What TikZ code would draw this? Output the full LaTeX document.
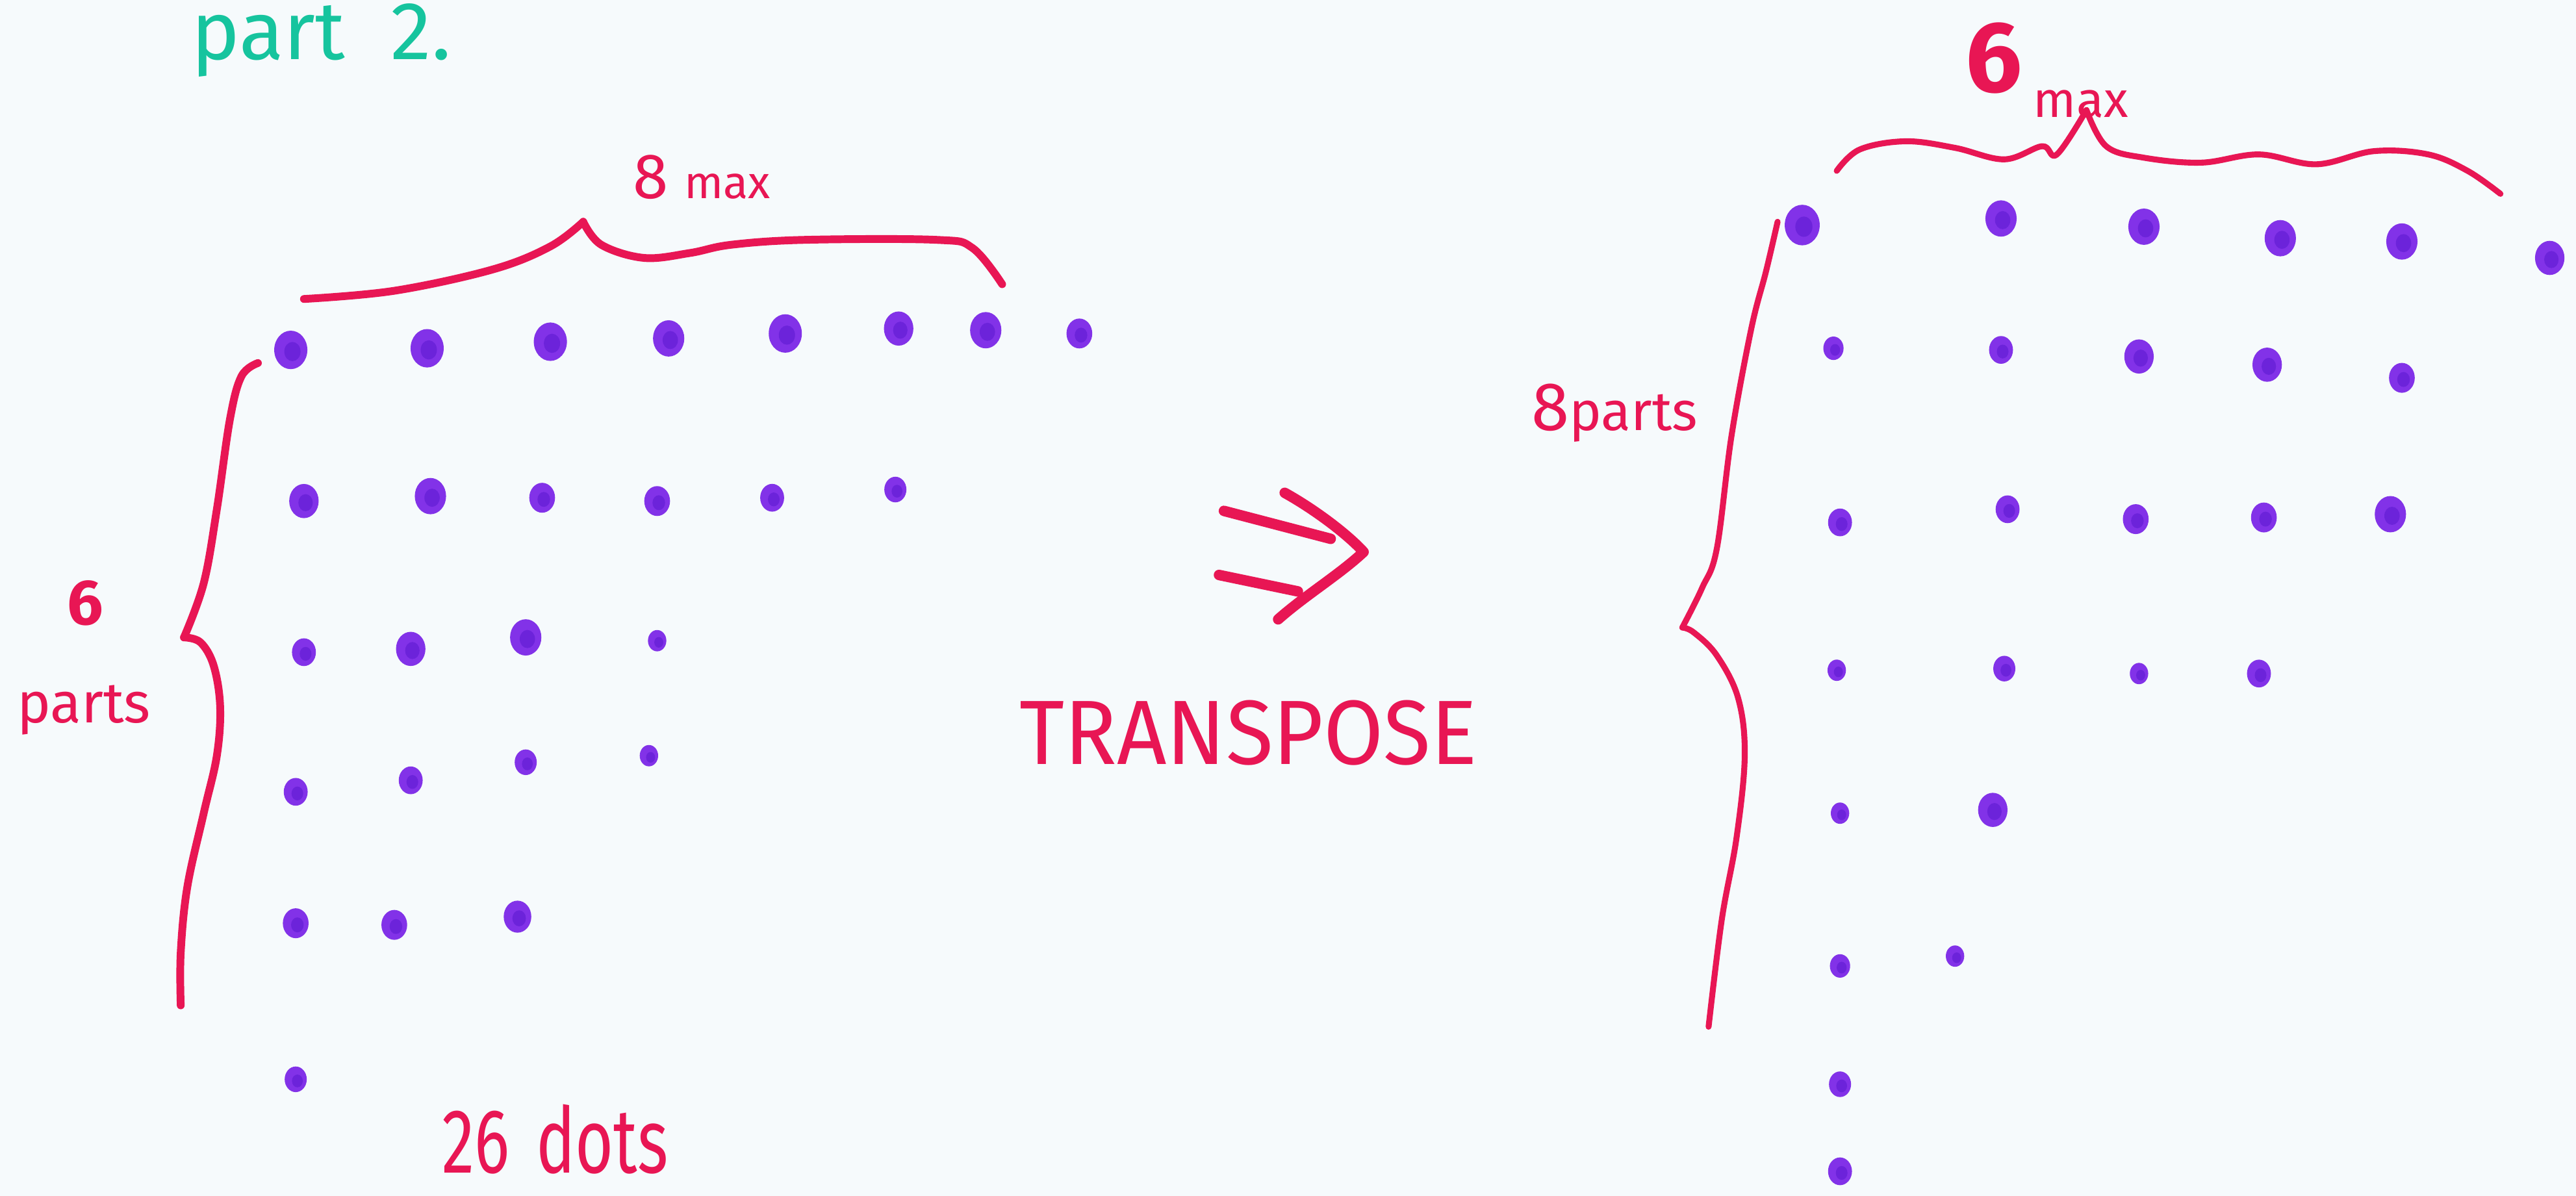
\documentclass[tikz,border=0pt]{standalone}
\usepackage{fontspec}
\setmainfont{Fira Sans}
\definecolor{paper}{RGB}{246,250,252}
\definecolor{marker}{RGB}{232,22,84}
\definecolor{mgreen}{RGB}{22,196,158}
\definecolor{dotc}{RGB}{130,50,232}
\definecolor{dotd}{RGB}{88,22,205}
\newcommand{\fs}[1]{\fontsize{#1}{#1}\selectfont}
\newcommand{\pdot}[3]{%
  \fill[dotc] (#1,#2) ellipse [x radius=1.12*#3, y radius=1.3*#3];
  \fill[dotd,opacity=0.5] (#1+1,#2+1) ellipse [x radius=0.55*#3, y radius=0.65*#3];}
\begin{document}
\begin{tikzpicture}[x=0.025287cm, y=-0.025287cm, line cap=round, line join=round,
  brace/.style={draw=marker, line width=3.4pt},
  thinbrace/.style={draw=marker, line width=2.6pt},
  arrowstroke/.style={draw=marker, line width=4.6pt},
  lbl/.style={text=marker, inner sep=0pt}]
\fill[paper] (0,0) rectangle (1568,728);
\useasboundingbox (0,0) rectangle (1568,728);

% title
\node[inner sep=0pt, text=mgreen, anchor=base west] (title) at (116,36) {\fs{36}part\hspace{20pt}2.};

% ---------- left grid ----------
\pdot{177}{213}{9}\pdot{260}{212}{9}\pdot{335}{208}{9}\pdot{407}{206}{8.5}
\pdot{478}{203}{9}\pdot{547}{200}{8}\pdot{600}{201}{8.5}\pdot{657}{203}{7}
\pdot{185}{305}{8}\pdot{262}{302}{8.5}\pdot{330}{303}{7}\pdot{400}{305}{7}
\pdot{470}{303}{6.5}\pdot{545}{298}{6}
\pdot{185}{397}{6.5}\pdot{250}{395}{8}\pdot{320}{388}{8.5}\pdot{400}{390}{5}
\pdot{180}{482}{6.5}\pdot{250}{475}{6.5}\pdot{320}{464}{6}\pdot{395}{460}{5}
\pdot{180}{562}{7}\pdot{240}{563}{7}\pdot{315}{558}{7.5}
\pdot{180}{657}{6}

% top brace (8 max)
\draw[brace] plot[smooth, tension=0.6] coordinates {(185,182) (240,177) (300,164) (335,150) (355,135)};
\draw[brace] plot[smooth, tension=0.6] coordinates {(355,135) (366,149) (392,157) (420,154) (445,149) (490,146) (570,146) (592,151) (610,173)};
\node[lbl, anchor=base west] (eightmax) at (385,121) {{\fs{28}8}\hspace{7pt}{\fs{20}max}};

% left brace (6 parts)
\draw[brace] plot[smooth, tension=0.6] coordinates {(157,221) (147,229) (140,255) (132,310) (124,355) (112,388)};
\draw[brace] plot[smooth, tension=0.6] coordinates {(112,388) (122,391) (130,405) (134,430) (132,460) (124,495) (114,540) (110,580) (110,612)};
\node[lbl] (sixL) at (52,367) {\fs{28}\bfseries 6};
\node[lbl, anchor=base] (partsL) at (51,440) {\fs{25}parts};

\node[lbl, anchor=base] (dots26) at (338,714) {\scalebox{0.72}[1]{\fs{40}26\hspace{16pt}dots}};

% ---------- arrow ----------
\coordinate (au1) at (745,311); \coordinate (au2) at (810,328);
\coordinate (al1) at (742,350); \coordinate (al2) at (790,360);
\coordinate (ah1) at (782,300); \coordinate (ah2) at (830,336); \coordinate (ah3) at (778,377);
\draw[arrowstroke] (au1) -- (au2);
\draw[arrowstroke] (al1) -- (al2);
\draw[arrowstroke] (ah1) .. controls (800,310) and (820,325) .. (ah2) .. controls (815,350) and (795,362) .. (ah3);
\node[lbl] (transpose) at (760,446) {\scalebox{0.95}[1]{\fs{40}TRANSPOSE}};

% ---------- right grid ----------
\pdot{1097}{137}{9.5}\pdot{1218}{133}{8.5}\pdot{1305}{138}{8.5}\pdot{1388}{145}{8.5}
\pdot{1462}{147}{8.5}\pdot{1552}{157}{8}
\pdot{1116}{212}{5.5}\pdot{1218}{213}{6.5}\pdot{1302}{217}{8}\pdot{1380}{222}{8}\pdot{1462}{230}{7}
\pdot{1120}{318}{6.5}\pdot{1222}{310}{6.5}\pdot{1300}{316}{7}\pdot{1378}{315}{7}\pdot{1455}{313}{8.5}
\pdot{1118}{408}{5}\pdot{1220}{407}{6}\pdot{1302}{410}{5}\pdot{1375}{410}{6.5}
\pdot{1120}{495}{5}\pdot{1213}{493}{8}
\pdot{1120}{588}{5.5}\pdot{1190}{582}{5}
\pdot{1120}{660}{6}
\pdot{1120}{713}{6.5}

% top brace (6 max)
\draw[thinbrace] plot[smooth, tension=0.6] coordinates {(1118,104) (1132,91) (1160,86) (1190,90) (1220,97) (1243,89) (1252,94) (1270,67)};
\draw[thinbrace] plot[smooth, tension=0.6] coordinates {(1270,67) (1282,89) (1305,96) (1340,99) (1375,94) (1410,100) (1445,92) (1478,94) (1502,104) (1522,118)};
\node[lbl, anchor=base west] (sixmax) at (1196,56) {{\fs{44}\bfseries 6}\hspace{5pt}\raisebox{-11pt}{\fs{22}max}};

% left brace (8 parts)
\draw[thinbrace] plot[smooth, tension=0.6] coordinates {(1082,135) (1075,165) (1066,200) (1054,265) (1045,334) (1036,358) (1024,382)};
\draw[thinbrace] plot[smooth, tension=0.6] coordinates {(1024,382) (1031,385) (1045,399) (1058,425) (1062,460) (1057,510) (1048,560) (1040,625)};
\node[lbl, anchor=base west] (eightparts) at (932,262) {{\fs{30}8}{\fs{24}parts}};
\end{tikzpicture}
\end{document}
